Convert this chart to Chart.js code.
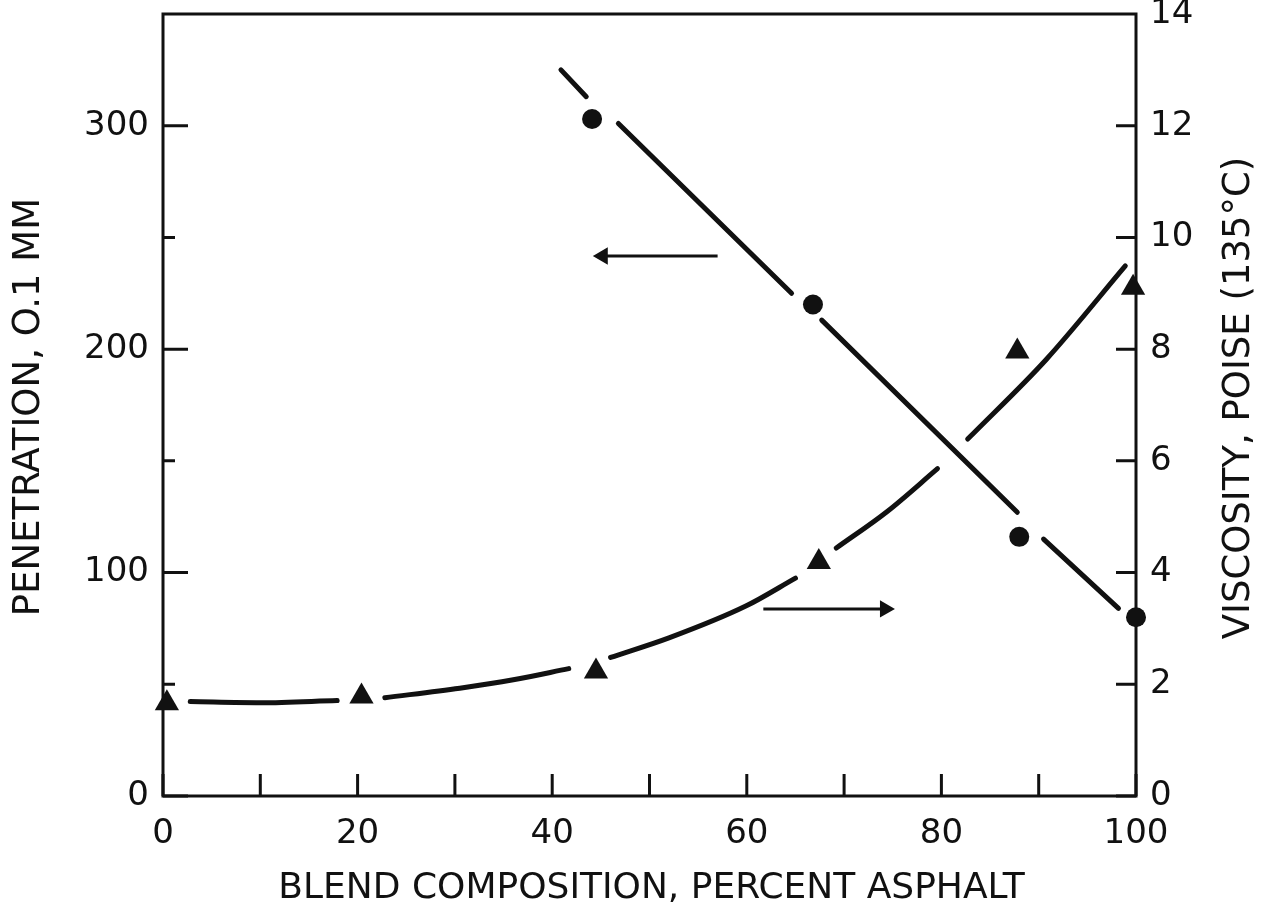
<!DOCTYPE html>
<html>
<head>
<meta charset="utf-8">
<script src="https://cdn.jsdelivr.net/npm/chart.js@4.4.1/dist/chart.umd.min.js"></script>
<style>
  html, body { margin: 0; background: #fff; }
  #wrap { width: 1268px; height: 910px; }
</style>
</head>
<body>
<div id="wrap"><canvas id="chart"></canvas></div>
<script>
// penetration (left axis), circles
const penX = [44.1, 66.8, 88.0, 100];
const penY = [303, 220, 116, 80];
// viscosity (right axis), triangles
const visX = [0.4, 20.4, 44.5, 67.4, 87.8, 99.7];
const visY = [1.66, 1.78, 2.23, 4.19, 7.96, 9.1];

// hand-drawn fit curves, broken where they pass a marker
const penFit = [
    [[40.9, 325], [43.5, 313]],
    [[46.8, 301], [64.6, 225]],
    [[67.7, 213], [87.8, 127]],
    [[90.5, 115], [98.2, 84]]
];
const visFit = [
    [[2.8, 1.69], [10, 1.67], [17.9, 1.71]],
    [[22.8, 1.76], [30.5, 1.93], [36, 2.08], [41.7, 2.28]],
    [[46, 2.48], [52, 2.83], [59.9, 3.4], [65, 3.9]],
    [[69.2, 4.44], [74.4, 5.09], [79.6, 5.86]],
    [[82.7, 6.39], [90.8, 7.82], [98.9, 9.49]]
];

// arrows pointing at each curve's axis
const leftArrowX = [57.0, 45.2];
const leftArrowY = [241.7, 241.7];
const rightArrowX = [61.7, 74.2];
const rightArrowY = [3.35, 3.35];

const xTitle = "BLEND COMPOSITION, PERCENT ASPHALT";
const yTitle = "PENETRATION, O.1 MM";
const y2Title = "VISCOSITY, POISE (135°C)";

const ink = "#111";
const font = '"DejaVu Sans", sans-serif';

function toPoints(xs, ys) {
    return xs.map((x, i) => ({x: x, y: ys[i]}));
}

const datasets = [];

penFit.forEach(seg => {
    datasets.push({
        data: seg.map(p => ({x: p[0], y: p[1]})),
        yAxisID: "y", showLine: true, borderColor: ink, borderWidth: 5,
        borderCapStyle: "round", pointRadius: 0, clip: false
    });
});
visFit.forEach(seg => {
    datasets.push({
        data: seg.map(p => ({x: p[0], y: p[1]})),
        yAxisID: "y2", showLine: true, borderColor: ink, borderWidth: 5,
        borderCapStyle: "round", cubicInterpolationMode: "monotone",
        pointRadius: 0, clip: false
    });
});

datasets.push({
    data: toPoints(leftArrowX, leftArrowY), yAxisID: "y", showLine: true,
    borderColor: ink, borderWidth: 3, backgroundColor: ink,
    pointStyle: "triangle", pointRadius: [0, 7], pointRotation: [0, -90], clip: false
});
datasets.push({
    data: toPoints(rightArrowX, rightArrowY), yAxisID: "y2", showLine: true,
    borderColor: ink, borderWidth: 3, backgroundColor: ink,
    pointStyle: "triangle", pointRadius: [0, 7], pointRotation: [0, 90], clip: false
});

datasets.push({
    data: toPoints(penX, penY), yAxisID: "y", pointStyle: "circle",
    pointRadius: 10, backgroundColor: ink, borderColor: ink, borderWidth: 0, clip: false
});
datasets.push({
    data: toPoints(visX, visY), yAxisID: "y2", pointStyle: "triangle",
    pointRadius: 14, backgroundColor: ink, borderColor: ink, borderWidth: 0, clip: false
});

const frameAndTicks = {
    id: "frameAndTicks",
    beforeDatasetsDraw(chart) {
        const {ctx, chartArea: a, scales} = chart;
        ctx.save();
        ctx.strokeStyle = ink;
        ctx.lineWidth = 3;
        ctx.strokeRect(a.left, a.top, a.right - a.left, a.bottom - a.top);
        ctx.beginPath();
        scales.x.ticks.forEach(t => {
            const px = scales.x.getPixelForValue(t.value);
            ctx.moveTo(px, a.bottom);
            ctx.lineTo(px, a.bottom - 22);
        });
        scales.y.ticks.forEach(t => {
            if (t.value >= 350) return;
            const py = scales.y.getPixelForValue(t.value);
            ctx.moveTo(a.left, py);
            ctx.lineTo(a.left + (t.value % 100 === 0 ? 25 : 12), py);
        });
        scales.y2.ticks.forEach(t => {
            if (t.value >= 14) return;
            const py = scales.y2.getPixelForValue(t.value);
            ctx.moveTo(a.right, py);
            ctx.lineTo(a.right - 20, py);
        });
        ctx.stroke();
        ctx.restore();
    },
    afterDraw(chart) {
        const {ctx, chartArea: a} = chart;
        ctx.save();
        ctx.fillStyle = ink;
        ctx.textAlign = "center";
        ctx.textBaseline = "middle";
        ctx.font = "36px " + font;
        ctx.fillText(xTitle, (a.left + a.right) / 2 + 2, a.bottom + 93);
        ctx.restore();

        ctx.save();
        ctx.fillStyle = ink;
        ctx.textAlign = "center";
        ctx.textBaseline = "middle";
        ctx.font = "37px " + font;
        ctx.translate(a.left - 134, (a.top + a.bottom) / 2 + 2);
        ctx.rotate(-Math.PI / 2);
        ctx.fillText(yTitle, 0, 0);
        ctx.restore();

        ctx.save();
        ctx.fillStyle = ink;
        ctx.textAlign = "center";
        ctx.textBaseline = "middle";
        ctx.font = "37px " + font;
        ctx.translate(a.right + 103, (a.top + a.bottom) / 2 - 7);
        ctx.rotate(-Math.PI / 2);
        ctx.fillText(y2Title, 0, 0);
        ctx.restore();
    }
};

new Chart(document.querySelector("#chart"), {
    type: "scatter",
    data: {datasets: datasets},
    options: {
        responsive: true,
        maintainAspectRatio: false,
        animation: false,
        layout: {padding: {top: 12, left: 0, right: 0, bottom: 0}},
        plugins: {legend: {display: false}, tooltip: {enabled: false}},
        scales: {
            x: {
                type: "linear", min: 0, max: 100,
                grid: {display: false, drawTicks: false}, border: {display: false},
                ticks: {
                    stepSize: 10, padding: 18, color: ink, font: {family: font, size: 34},
                    maxRotation: 0, autoSkip: false,
                    callback: v => v % 20 === 0 ? v : ""
                },
                afterFit: s => { s.height = 114; s.paddingLeft = 0; s.paddingRight = 0; }
            },
            y: {
                type: "linear", position: "left", min: 0, max: 350,
                grid: {display: false, drawTicks: false}, border: {display: false},
                ticks: {
                    stepSize: 50, padding: 14, color: ink, font: {family: font, size: 34},
                    autoSkip: false,
                    callback: v => (v % 100 === 0 && v <= 300) ? v : ""
                },
                afterFit: s => { s.width = 163; s.paddingTop = 0; s.paddingBottom = 0; }
            },
            y2: {
                type: "linear", position: "right", min: 0, max: 14,
                grid: {display: false, drawTicks: false}, border: {display: false},
                ticks: {
                    stepSize: 2, padding: 14, color: ink, font: {family: font, size: 34},
                    autoSkip: false
                },
                afterFit: s => { s.width = 132; s.paddingTop = 0; s.paddingBottom = 0; }
            }
        }
    },
    plugins: [frameAndTicks]
});
</script>
</body>
</html>
